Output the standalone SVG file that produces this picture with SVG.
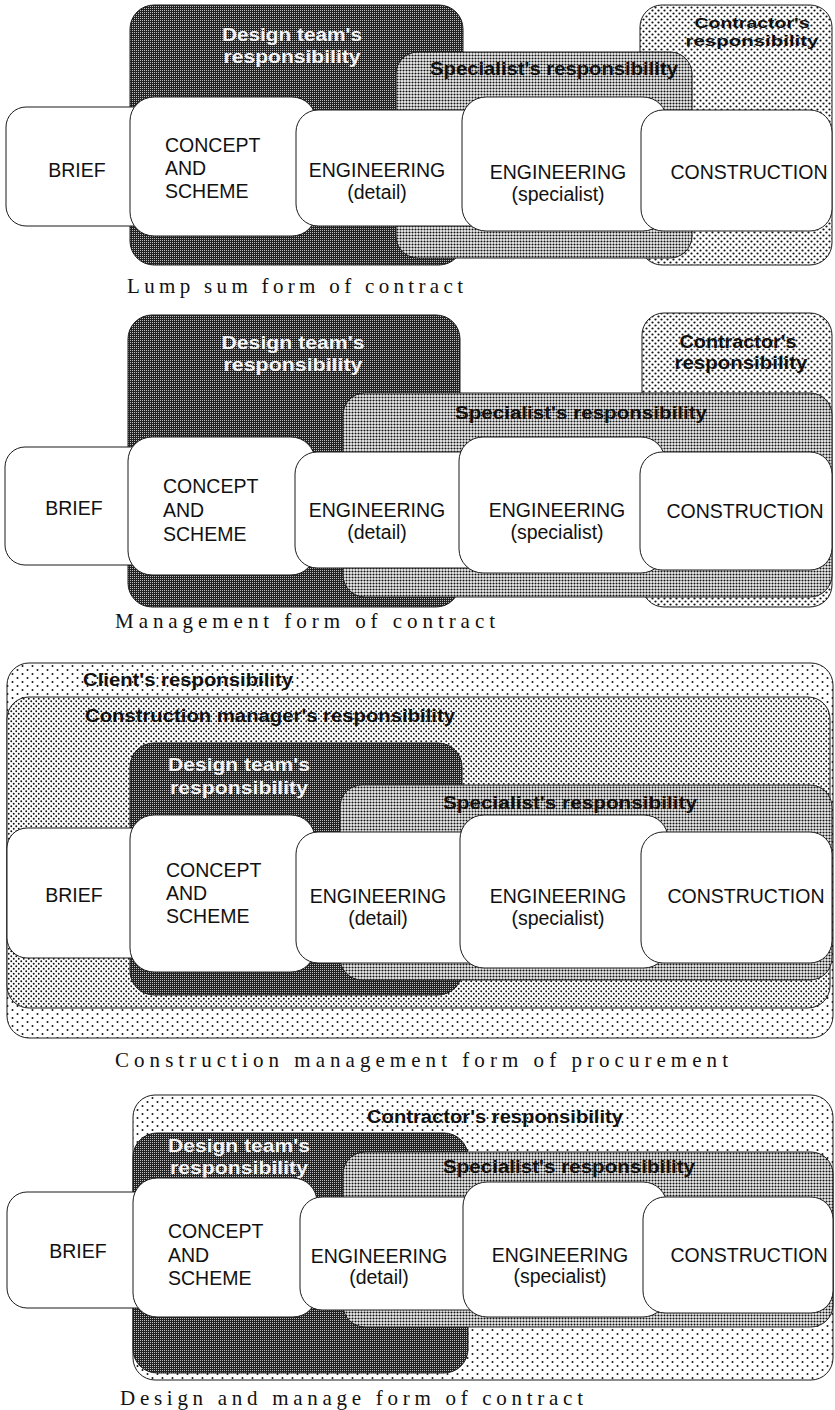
<svg xmlns="http://www.w3.org/2000/svg" width="835" height="1410" viewBox="0 0 835 1410">
  <defs>
    <!-- dark halftone for the design team -->
    <pattern id="pDark" width="2" height="2" patternUnits="userSpaceOnUse">
      <rect width="2" height="2" fill="#222"/>
      <rect width="1" height="1" fill="#bdbdbd"/>
    </pattern>
    <!-- fine dense screen for the specialist -->
    <pattern id="pSpec" width="3" height="3" patternUnits="userSpaceOnUse">
      <rect width="3" height="3" fill="#f2f2f2"/>
      <circle cx="1.5" cy="1.5" r="1.05" fill="#111"/>
    </pattern>
    <!-- medium staggered dots -->
    <pattern id="pMed" width="6" height="6" patternUnits="userSpaceOnUse">
      <rect width="6" height="6" fill="#fff"/>
      <circle cx="1.5" cy="1.5" r="1.1" fill="#111"/>
      <circle cx="4.5" cy="4.5" r="1.1" fill="#111"/>
    </pattern>
    <!-- construction manager dots -->
    <pattern id="pCM" width="5" height="5" patternUnits="userSpaceOnUse">
      <rect width="5" height="5" fill="#fff"/>
      <circle cx="1.25" cy="1.25" r="0.95" fill="#111"/>
      <circle cx="3.75" cy="3.75" r="0.95" fill="#111"/>
    </pattern>
    <!-- sparse dots -->
    <pattern id="pSparse" width="10" height="8" patternUnits="userSpaceOnUse">
      <rect width="10" height="8" fill="#fff"/>
      <circle cx="2.5" cy="2" r="1" fill="#111"/>
      <circle cx="7.5" cy="6" r="1" fill="#111"/>
    </pattern>
    <style>
      .area { stroke: #1a1a1a; stroke-width: 1; }
      .dark { fill: url(#pDark); }
      .spec { fill: url(#pSpec); }
      .med { fill: url(#pMed); }
      .cm { fill: url(#pCM); }
      .sparse { fill: url(#pSparse); }
      .node { fill: #fff; stroke: #1a1a1a; stroke-width: 1; }
      .lbl { font-family: "Liberation Sans", Arial, sans-serif; font-size: 19.5px; fill: #111; }
      .mid { text-anchor: middle; }
      .resp { font-family: "Liberation Sans", Arial, sans-serif; font-size: 18px; font-weight: bold; fill: #111; }
      .small { font-size: 15px; }
      .rw { fill: #f4f4f4; }
      .cap { font-family: "Liberation Serif", "Times New Roman", serif; font-size: 21px; fill: #111; }
    </style>
  </defs>

  <rect width="835" height="1410" fill="#fff"/>

  <!-- ===== Lump sum form of contract ===== -->
  <g id="lump-sum">
    <g id="ls-contractor">
      <rect class="area med" x="640" y="5" width="192" height="260" rx="22"/>
      <text class="resp small mid" x="752" y="28" textLength="115" lengthAdjust="spacingAndGlyphs">Contractor's</text>
      <text class="resp small mid" x="752" y="46" textLength="133" lengthAdjust="spacingAndGlyphs">responsibility</text>
    </g>
    <g id="ls-design">
      <rect class="area dark" x="130" y="5" width="333" height="260" rx="24"/>
      <text class="resp rw mid" x="292" y="41" textLength="140" lengthAdjust="spacingAndGlyphs">Design team's</text>
      <text class="resp rw mid" x="292" y="63" textLength="137" lengthAdjust="spacingAndGlyphs">responsibility</text>
    </g>
    <g id="ls-specialist">
      <rect class="area spec" x="396" y="52" width="296" height="206" rx="22"/>
      <text class="resp mid" x="554" y="75" textLength="248" lengthAdjust="spacingAndGlyphs">Specialist's responsibility</text>
    </g>
    <g id="ls-brief">
      <rect class="node" x="6" y="107" width="150" height="119" rx="20"/>
      <text class="lbl mid" x="77" y="177">BRIEF</text>
    </g>
    <g id="ls-concept">
      <rect class="node" x="130" y="97" width="186" height="139" rx="24"/>
      <text class="lbl" x="165" y="152">CONCEPT</text>
      <text class="lbl" x="165" y="175">AND</text>
      <text class="lbl" x="165" y="198">SCHEME</text>
    </g>
    <g id="ls-eng-detail">
      <rect class="node" x="296" y="110" width="200" height="116" rx="22"/>
      <text class="lbl mid" x="377" y="177">ENGINEERING</text>
      <text class="lbl mid" x="377" y="199">(detail)</text>
    </g>
    <g id="ls-eng-specialist">
      <rect class="node" x="462" y="97" width="205" height="134" rx="24"/>
      <text class="lbl mid" x="558" y="179">ENGINEERING</text>
      <text class="lbl mid" x="558" y="201">(specialist)</text>
    </g>
    <g id="ls-construction">
      <rect class="node" x="641" y="110" width="191" height="121" rx="22"/>
      <text class="lbl mid" x="749" y="179">CONSTRUCTION</text>
    </g>
    <text class="cap" x="127" y="293" textLength="336" lengthAdjust="spacing">Lump sum form of contract</text>
  </g>

  <!-- ===== Management form of contract ===== -->
  <g id="management">
    <g id="mg-contractor">
      <rect class="area med" x="642" y="313" width="190" height="294" rx="22"/>
      <text class="resp mid" x="738" y="348" textLength="117" lengthAdjust="spacingAndGlyphs">Contractor's</text>
      <text class="resp mid" x="741" y="369" textLength="133" lengthAdjust="spacingAndGlyphs">responsibility</text>
    </g>
    <g id="mg-design">
      <rect class="area dark" x="128" y="315" width="332" height="292" rx="24"/>
      <text class="resp rw mid" x="293" y="349" textLength="143" lengthAdjust="spacingAndGlyphs">Design team's</text>
      <text class="resp rw mid" x="293" y="371" textLength="139" lengthAdjust="spacingAndGlyphs">responsibility</text>
    </g>
    <g id="mg-specialist">
      <rect class="area spec" x="343" y="393" width="489" height="204" rx="22"/>
      <text class="resp mid" x="581" y="419" textLength="252" lengthAdjust="spacingAndGlyphs">Specialist's responsibility</text>
    </g>
    <g id="mg-brief">
      <rect class="node" x="5" y="447" width="150" height="118" rx="20"/>
      <text class="lbl mid" x="74" y="515">BRIEF</text>
    </g>
    <g id="mg-concept">
      <rect class="node" x="128" y="437" width="187" height="138" rx="24"/>
      <text class="lbl" x="163" y="493">CONCEPT</text>
      <text class="lbl" x="163" y="517">AND</text>
      <text class="lbl" x="163" y="541">SCHEME</text>
    </g>
    <g id="mg-eng-detail">
      <rect class="node" x="295" y="452" width="200" height="116" rx="22"/>
      <text class="lbl mid" x="377" y="517">ENGINEERING</text>
      <text class="lbl mid" x="377" y="539">(detail)</text>
    </g>
    <g id="mg-eng-specialist">
      <rect class="node" x="459" y="437" width="206" height="136" rx="24"/>
      <text class="lbl mid" x="557" y="517">ENGINEERING</text>
      <text class="lbl mid" x="557" y="539">(specialist)</text>
    </g>
    <g id="mg-construction">
      <rect class="node" x="640" y="452" width="192" height="118" rx="22"/>
      <text class="lbl mid" x="745" y="518">CONSTRUCTION</text>
    </g>
    <text class="cap" x="115" y="628" textLength="380" lengthAdjust="spacing">Management form of contract</text>
  </g>

  <!-- ===== Construction management form of procurement ===== -->
  <g id="construction-management">
    <g id="cm-client">
      <rect class="area sparse" x="7" y="663" width="826" height="375" rx="22"/>
      <text class="resp" x="83" y="686" textLength="210" lengthAdjust="spacingAndGlyphs">Client's responsibility</text>
    </g>
    <g id="cm-manager">
      <rect class="area cm" x="7" y="697" width="823" height="311" rx="22"/>
      <text class="resp" x="85" y="722" textLength="370" lengthAdjust="spacingAndGlyphs">Construction manager's responsibility</text>
    </g>
    <g id="cm-design">
      <rect class="area dark" x="130" y="743" width="332" height="252" rx="24"/>
      <text class="resp rw mid" x="239" y="771" textLength="142" lengthAdjust="spacingAndGlyphs">Design team's</text>
      <text class="resp rw mid" x="239" y="794" textLength="138" lengthAdjust="spacingAndGlyphs">responsibility</text>
    </g>
    <g id="cm-specialist">
      <rect class="area spec" x="340" y="785" width="492" height="195" rx="22"/>
      <text class="resp mid" x="570" y="809" textLength="254" lengthAdjust="spacingAndGlyphs">Specialist's responsibility</text>
    </g>
    <g id="cm-brief">
      <rect class="node" x="7" y="828" width="150" height="130" rx="20"/>
      <text class="lbl mid" x="74" y="902">BRIEF</text>
    </g>
    <g id="cm-concept">
      <rect class="node" x="130" y="815" width="185" height="157" rx="24"/>
      <text class="lbl" x="166" y="877">CONCEPT</text>
      <text class="lbl" x="166" y="900">AND</text>
      <text class="lbl" x="166" y="923">SCHEME</text>
    </g>
    <g id="cm-eng-detail">
      <rect class="node" x="296" y="832" width="200" height="131" rx="22"/>
      <text class="lbl mid" x="378" y="903">ENGINEERING</text>
      <text class="lbl mid" x="378" y="925">(detail)</text>
    </g>
    <g id="cm-eng-specialist">
      <rect class="node" x="460" y="815" width="208" height="153" rx="24"/>
      <text class="lbl mid" x="558" y="903">ENGINEERING</text>
      <text class="lbl mid" x="558" y="925">(specialist)</text>
    </g>
    <g id="cm-construction">
      <rect class="node" x="641" y="832" width="191" height="131" rx="22"/>
      <text class="lbl mid" x="746" y="903">CONSTRUCTION</text>
    </g>
    <text class="cap" x="115" y="1067" textLength="613" lengthAdjust="spacing">Construction management form of procurement</text>
  </g>

  <!-- ===== Design and manage form of contract ===== -->
  <g id="design-manage">
    <g id="dm-contractor">
      <rect class="area sparse" x="133" y="1095" width="700" height="285" rx="22"/>
      <text class="resp" x="367" y="1123" textLength="256" lengthAdjust="spacingAndGlyphs">Contractor's responsibility</text>
    </g>
    <g id="dm-design">
      <rect class="area dark" x="133" y="1133" width="335" height="240" rx="24"/>
      <text class="resp rw mid" x="239" y="1152" textLength="142" lengthAdjust="spacingAndGlyphs">Design team's</text>
      <text class="resp rw mid" x="239" y="1174" textLength="138" lengthAdjust="spacingAndGlyphs">responsibility</text>
    </g>
    <g id="dm-specialist">
      <rect class="area spec" x="343" y="1152" width="490" height="175" rx="22"/>
      <text class="resp mid" x="569" y="1173" textLength="252" lengthAdjust="spacingAndGlyphs">Specialist's responsibility</text>
    </g>
    <g id="dm-brief">
      <rect class="node" x="7" y="1192" width="150" height="116" rx="20"/>
      <text class="lbl mid" x="78" y="1258">BRIEF</text>
    </g>
    <g id="dm-concept">
      <rect class="node" x="133" y="1178" width="184" height="139" rx="24"/>
      <text class="lbl" x="168" y="1238">CONCEPT</text>
      <text class="lbl" x="168" y="1262">AND</text>
      <text class="lbl" x="168" y="1285">SCHEME</text>
    </g>
    <g id="dm-eng-detail">
      <rect class="node" x="300" y="1197" width="200" height="113" rx="22"/>
      <text class="lbl mid" x="379" y="1263">ENGINEERING</text>
      <text class="lbl mid" x="379" y="1284">(detail)</text>
    </g>
    <g id="dm-eng-specialist">
      <rect class="node" x="463" y="1182" width="204" height="135" rx="24"/>
      <text class="lbl mid" x="560" y="1262">ENGINEERING</text>
      <text class="lbl mid" x="560" y="1283">(specialist)</text>
    </g>
    <g id="dm-construction">
      <rect class="node" x="643" y="1197" width="190" height="116" rx="22"/>
      <text class="lbl mid" x="749" y="1262">CONSTRUCTION</text>
    </g>
    <text class="cap" x="120" y="1405" textLength="463" lengthAdjust="spacing">Design and manage form of contract</text>
  </g>
</svg>
